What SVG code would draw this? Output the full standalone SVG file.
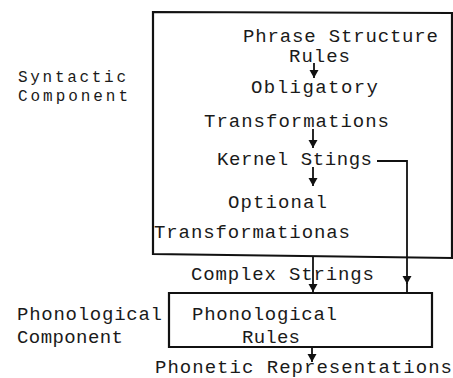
<svg xmlns="http://www.w3.org/2000/svg" width="453" height="378" viewBox="0 0 453 378">
  <defs>
    <marker id="head" viewBox="0 0 8 11" refX="8" refY="5.5" markerWidth="9" markerHeight="11" markerUnits="userSpaceOnUse" orient="auto">
      <path d="M0,1 L8,5.5 L0,10 Z" fill="#111"/>
    </marker>
    <style>
      text { font-family: "Liberation Mono", "DejaVu Sans Mono", monospace; font-size: 19px; fill: #1a1a1a; }
      .side { font-size: 16px; }
      .box { fill: none; stroke: #111; stroke-width: 2.2; }
      .edge { fill: none; stroke: #111; stroke-width: 1.8; }
    </style>
  </defs>
  <rect width="453" height="378" fill="#fff"/>

  <!-- component labels on the left -->
  <g id="syntactic-label">
    <text class="side" x="18" y="82" textLength="108" lengthAdjust="spacing">Syntactic</text>
    <text class="side" x="18" y="101" textLength="110" lengthAdjust="spacing">Component</text>
  </g>
  <g id="phonological-label">
    <text x="17" y="320" textLength="145" lengthAdjust="spacing">Phonological</text>
    <text x="17" y="343" textLength="106" lengthAdjust="spacing">Component</text>
  </g>

  <!-- syntactic component box -->
  <g id="syntactic-component">
    <path class="box" d="M153,12 L452,13 L452,258 L153,254 Z"/>
  </g>

  <g id="phrase-structure-rules">
    <text x="243" y="42" textLength="195" lengthAdjust="spacing">Phrase Structure</text>
    <text x="289" y="62" textLength="61" lengthAdjust="spacing">Rules</text>
  </g>
  <g id="obligatory-transformations">
    <text x="251" y="93" textLength="127" lengthAdjust="spacing">Obligatory</text>
    <text x="204" y="127" textLength="185" lengthAdjust="spacing">Transformations</text>
  </g>
  <g id="kernel-strings">
    <text x="217" y="165" textLength="155" lengthAdjust="spacing">Kernel Stings</text>
  </g>
  <g id="optional-transformations">
    <text x="228" y="208" textLength="99" lengthAdjust="spacing">Optional</text>
    <text x="154" y="238" textLength="196" lengthAdjust="spacing">Transformationas</text>
  </g>
  <g id="complex-strings">
    <text x="191" y="280" textLength="183" lengthAdjust="spacing">Complex Strings</text>
  </g>

  <!-- phonological component box -->
  <g id="phonological-rules">
    <path class="box" d="M169,293 L432,293 L432,347 L169,347 Z"/>
    <text x="192" y="320" textLength="145" lengthAdjust="spacing">Phonological</text>
    <text x="242" y="343" textLength="58" lengthAdjust="spacing">Rules</text>
  </g>

  <g id="phonetic-representations">
    <text x="155" y="373" textLength="297" lengthAdjust="spacing">Phonetic Representations</text>
  </g>

  <!-- connectors -->
  <g id="connectors">
    <line class="edge" x1="314" y1="63" x2="314" y2="78" marker-end="url(#head)"/>
    <line class="edge" x1="313" y1="129" x2="313" y2="148" marker-end="url(#head)"/>
    <line class="edge" x1="313" y1="167" x2="313" y2="186" marker-end="url(#head)"/>
    <line class="edge" x1="313" y1="256" x2="313" y2="292" marker-end="url(#head)"/>
    <polyline class="edge" points="377,161 407,161 407,284" marker-end="url(#head)"/>
    <line class="edge" x1="407" y1="283" x2="407" y2="293"/>
    <line class="edge" x1="312" y1="348" x2="312" y2="362" marker-end="url(#head)"/>
  </g>
</svg>
